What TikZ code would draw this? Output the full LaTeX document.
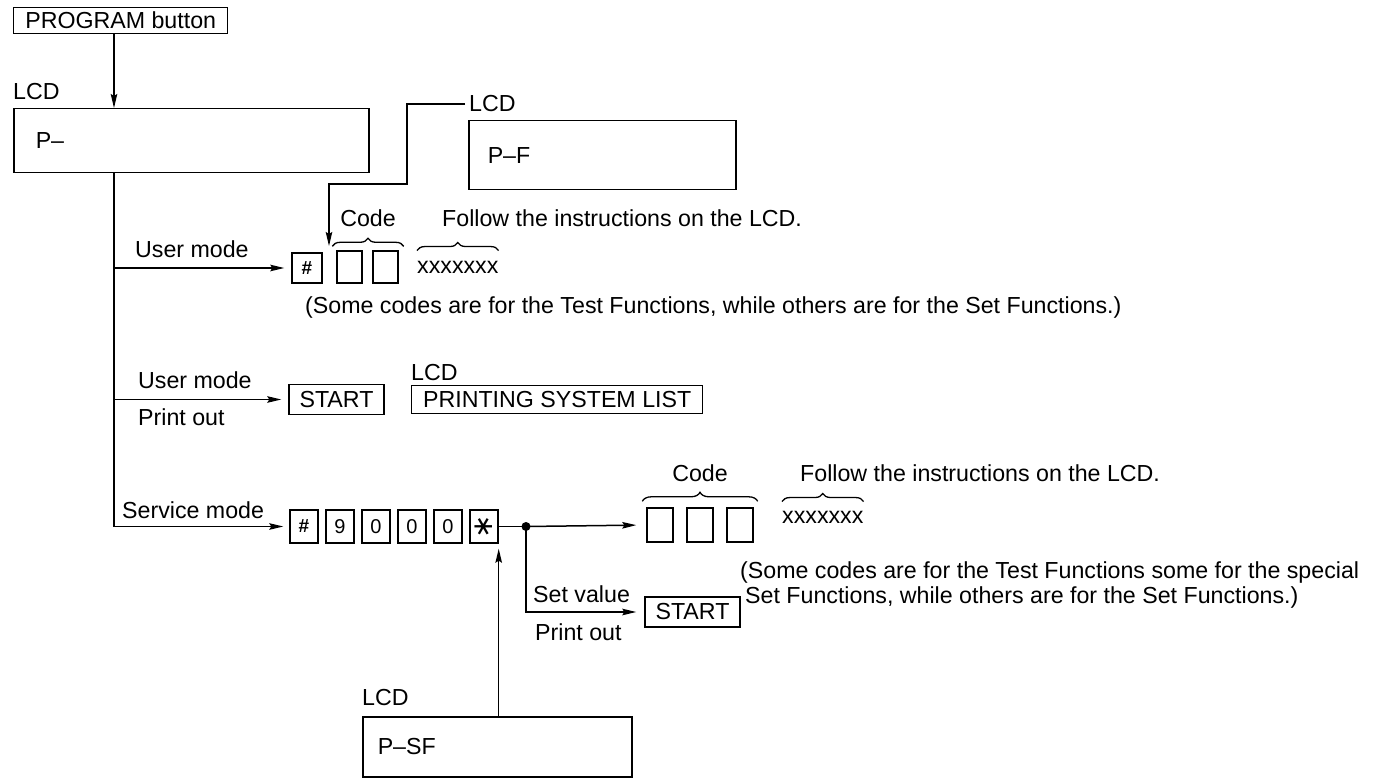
\documentclass[tikz,border=0pt]{standalone}
\usepackage{fontspec}
\setmainfont{Liberation Sans}
\newfontfamily\djv{DejaVu Sans}
\usetikzlibrary{arrows.meta,decorations.pathreplacing}
\newcommand{\fsz}{\fontsize{23.2}{27}\selectfont}
\newcommand{\keyf}{\fontsize{20}{22}\selectfont}
\newcommand{\hashf}{\fontsize{19}{20}\selectfont\bfseries}
\begin{document}
\begin{tikzpicture}[x=1pt,y=-1pt,
  every node/.style={font=\fsz, inner sep=0pt},
  line/.style={line width=1.5pt},
  arr/.style={line width=1.5pt, -{Stealth[length=14pt,width=6.5pt,inset=2pt]}},
  txt/.style={anchor=base west},
  keybox/.style={draw, line width=1.4pt, minimum width=28pt, minimum height=33pt, font=\keyf},
  codebox/.style={draw, line width=1.4pt, minimum width=25pt, minimum height=32pt},
  btn/.style={draw, line width=1.4pt, minimum width=95pt, minimum height=30pt},
  lcdbox/.style={draw, line width=1.5pt, anchor=north west, align=left},
  brc/.style={line width=1.3pt, decorate, decoration={brace, amplitude=8pt}},
]
\useasboundingbox (0,0) rectangle (1398,778);

% top
\node[draw, line width=1.4pt, anchor=north west, minimum width=214pt, minimum height=26pt] (prog) at (13,7) {PROGRAM button};
\node[txt] (lcd1) at (13,100) {LCD};
\node[lcdbox, text width=311pt, inner xsep=22pt, minimum height=64pt] (p) at (13,108) {P–};
\coordinate (trunk) at (114,0);
\draw[arr] (prog.south -| trunk) -- (p.north -| trunk);

% P-F
\node[lcdbox, text width=229pt, inner xsep=19pt, minimum height=69pt] (pf) at (468,120) {P–F};
\node[txt, inner xsep=4pt] (lcd2) at (465,112) {LCD};
\coordinate (k1) at (407,184);
\coordinate (tip1) at (329,246);
\draw[arr] (lcd2.west) -| (k1) -| (tip1);

% row 1
\node[keybox, minimum width=30pt, minimum height=30pt, font=\hashf] (u0) at (307,268) {\#};
\node[codebox] (u1) at (349.5,267) {};
\node[codebox] (u2) at (385.5,267) {};
\node[txt] (ul1) at (135,258) {User mode};
\draw[arr, shorten >=7pt] (u0.west -| trunk) -- (u0.west);
\draw[brc] ([xshift=-4pt,yshift=4pt]u1.north west) -- ([xshift=5pt,yshift=4pt]u2.north east);
\node[anchor=base] (code1) at (368,227) {Code};
\node[txt] (follow1) at (442,227) {Follow the instructions on the LCD.};
\node[txt] (x1) at (417,273) {xxxxxxx};
\draw[brc] ([yshift=10pt]x1.north west) -- ([yshift=10pt]x1.north east);
\node[txt] (note1) at (305,313) {(Some codes are for the Test Functions, while others are for the Set Functions.)};

% row 2
\node[txt] (ul2) at (138,388) {User mode};
\node[txt] (po1) at (138,425) {Print out};
\node[btn] (st1) at (336.5,399.5) {START};
\draw[arr, shorten >=7pt] (st1.west -| trunk) -- (st1.west);
\node[txt] (lcd3) at (411,380) {LCD};
\node[draw, line width=1.4pt, anchor=north west, minimum width=291pt, minimum height=28pt] (psl) at (411,385) {PRINTING SYSTEM LIST};

% row 3
\node[txt] (sm) at (122,518) {Service mode};
\node[keybox, font=\hashf] (s0) at (304,526.5) {\#};
\node[keybox] (s1) at (340,526.5) {9};
\node[keybox] (s2) at (376,526.5) {0};
\node[keybox] (s3) at (412,526.5) {0};
\node[keybox] (s4) at (448,526.5) {0};
\node[keybox] (s5) at (484,526.5) {\djv\fontsize{28}{28}\selectfont\rotatebox{90}{∗}};
\draw[arr, shorten >=6pt] (p.south -| trunk) |- (s0.west);
\node[circle, fill, minimum size=9pt] (dot) at (526,526.5) {};
\draw[line] (s5.east) -- (dot.center);
\node[codebox, minimum width=26pt, minimum height=34pt] (c1) at (660,525) {};
\node[codebox, minimum width=26pt, minimum height=34pt] (c2) at (700,525) {};
\node[codebox, minimum width=26pt, minimum height=34pt] (c3) at (740,525) {};
\draw[arr, shorten >=10pt] (dot.center) -- (c1.west);
\draw[brc, decoration={amplitude=9pt}] ([xshift=-4pt,yshift=6pt]c1.north west) -- ([xshift=4pt,yshift=6pt]c3.north east);
\node[anchor=base] (code2) at (700,481) {Code};
\node[txt] (follow2) at (800,481) {Follow the instructions on the LCD.};
\node[txt] (x2) at (782,523) {xxxxxxx};
\draw[brc] ([yshift=9pt]x2.north west) -- ([yshift=9pt]x2.north east);
\node[txt] (note2a) at (740,578) {(Some codes are for the Test Functions some for the special};
\node[txt] (note2b) at (745,603) {Set Functions, while others are for the Set Functions.)};

\node[btn] (st2) at (692.5,612) {START};
\draw[arr, shorten >=8pt] (dot.center) |- (st2.west);
\node[txt] (sv) at (533,602) {Set value};
\node[txt] (po2) at (535,640) {Print out};

% P-SF
\node[txt] (lcd4) at (362,705) {LCD};
\node[lcdbox, text width=239pt, inner xsep=15pt, minimum height=60pt] (psf) at (362,716) {P–SF};
\draw[arr, shorten >=5pt] (psf.north -| s5.south east) -- (s5.south east);
\end{tikzpicture}
\end{document}
